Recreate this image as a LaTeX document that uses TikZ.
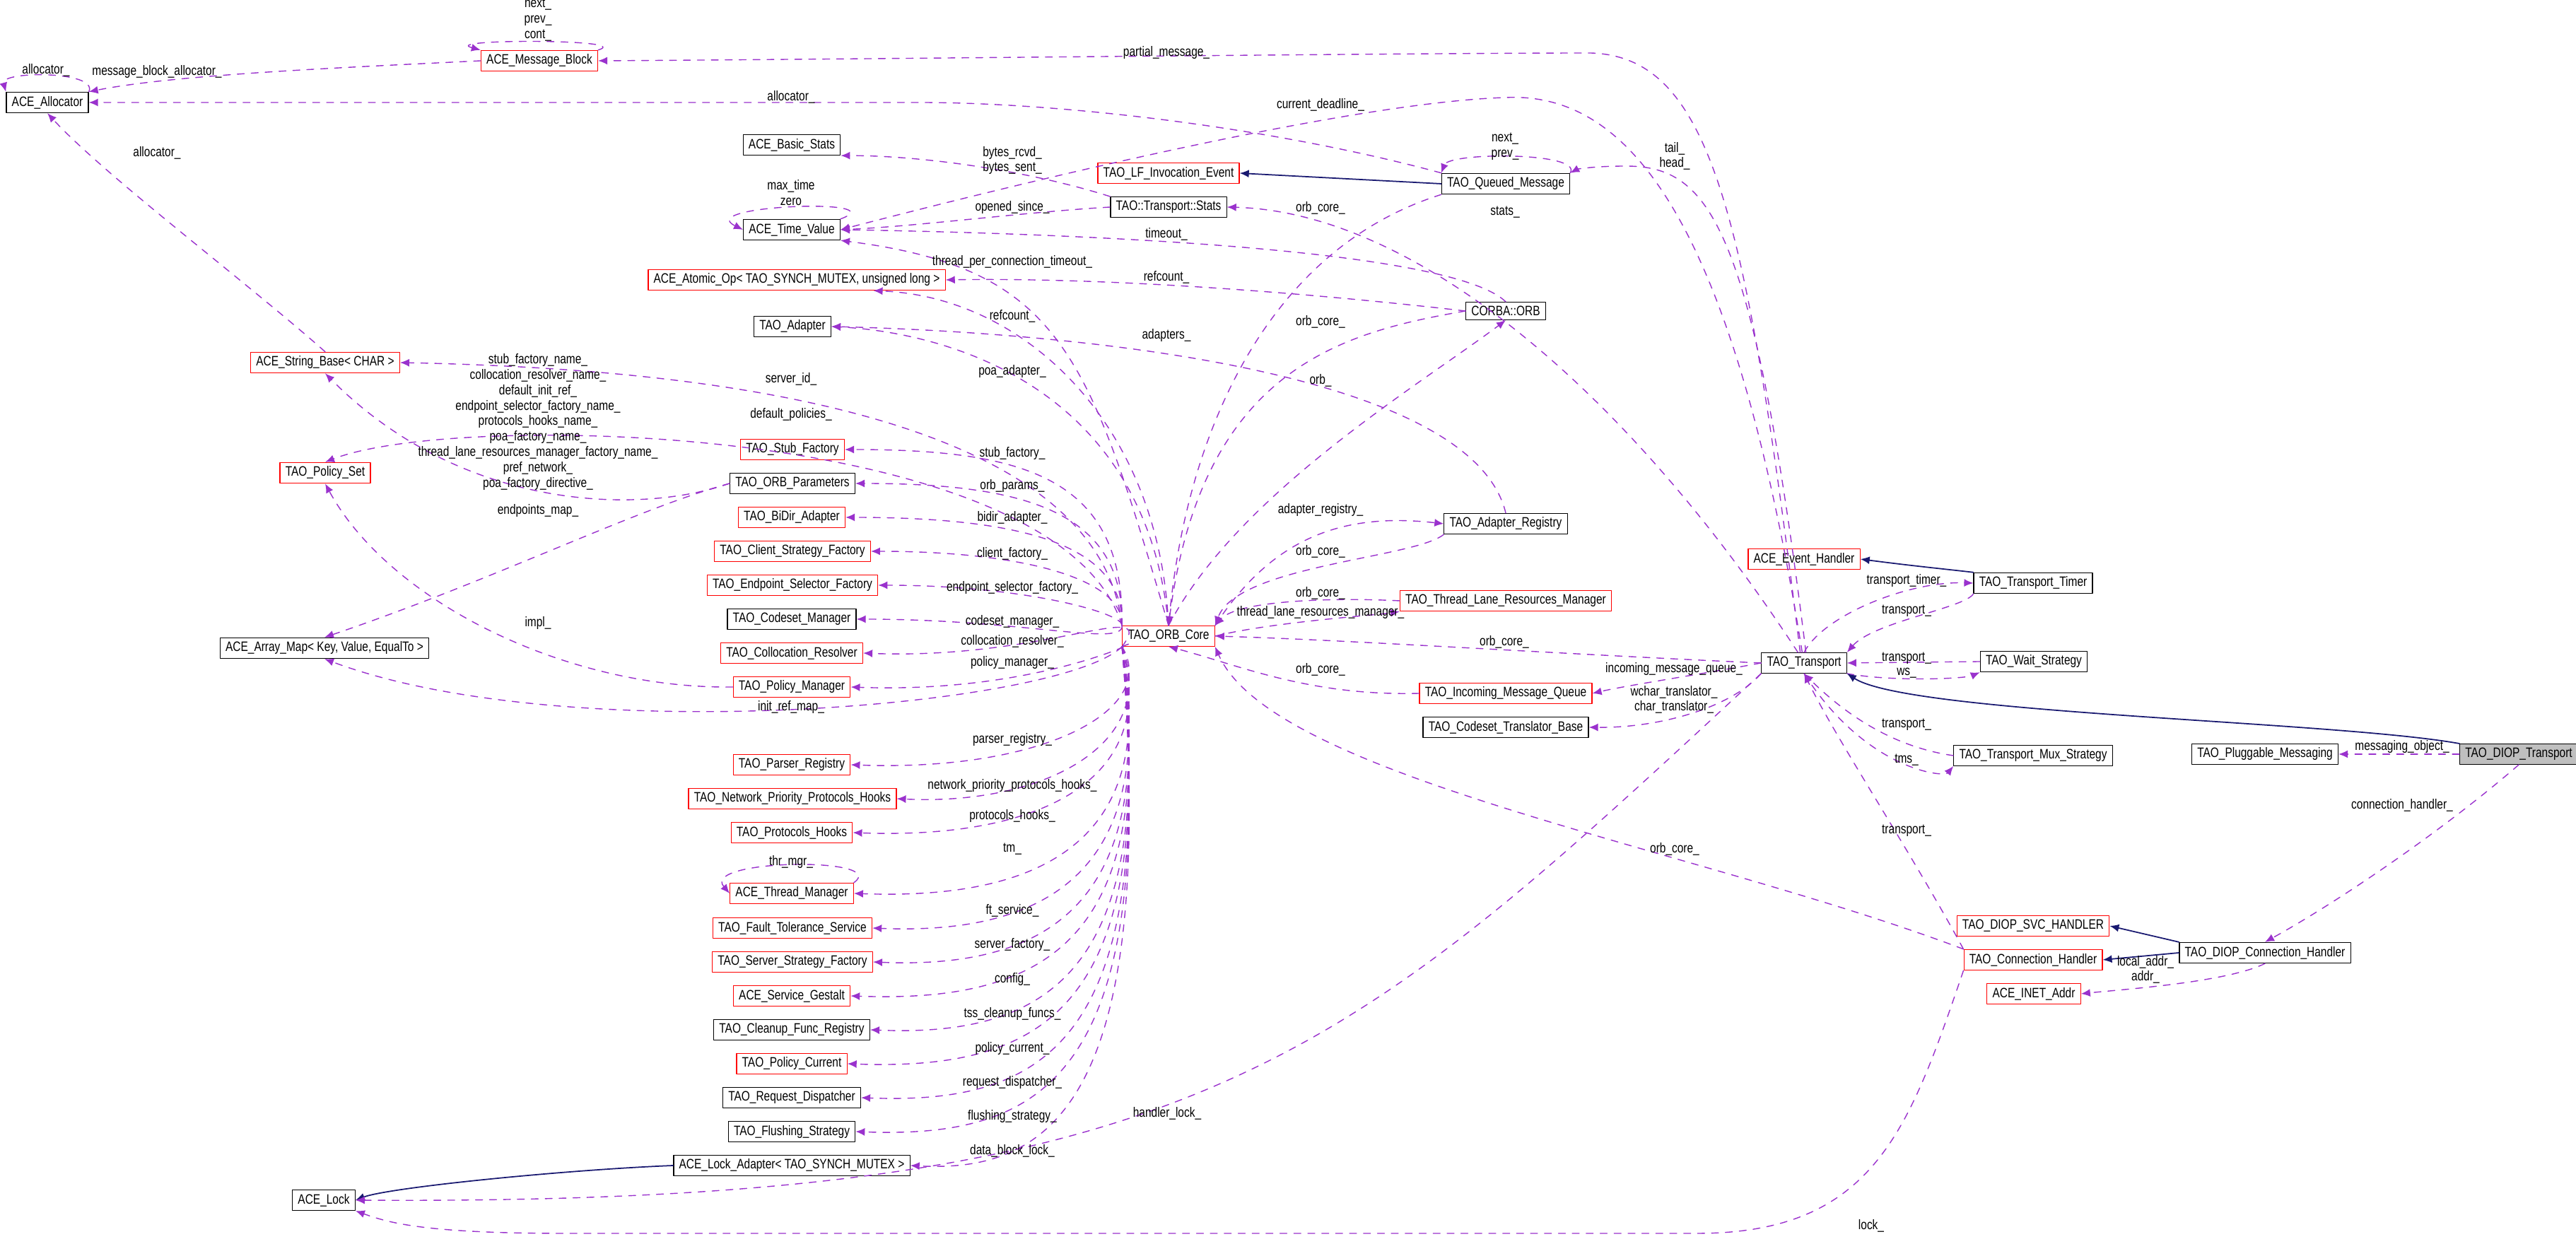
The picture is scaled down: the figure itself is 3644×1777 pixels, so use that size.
\documentclass[tikz,border=0pt]{standalone}
\usepackage{fontspec}
\setsansfont[FakeStretch=0.8]{Liberation Sans}
\usetikzlibrary{arrows.meta}
\definecolor{depcol}{HTML}{9A32CD}
\definecolor{inhcol}{HTML}{191970}
\begin{document}
\begin{tikzpicture}[x=0.01cm, y=-0.01cm, line cap=round, line join=round,
  font=\sffamily\fontsize{5.5}{6.2}\selectfont,
  cls/.style={draw=black, line width=0.35pt, inner xsep=2.2pt, inner ysep=1.6pt, minimum height=0.245cm, fill=white},
  red/.style={cls, draw=red},
  lab/.style={inner sep=0.5pt, align=center},
  dep/.style={draw=depcol, dash pattern=on 2.8pt off 2.8pt, line width=0.4pt, -{Latex[length=1.3mm,width=1.1mm]}},
  inh/.style={draw=inhcol, line width=0.5pt, -{Latex[length=1.3mm,width=1.1mm]}}]

\useasboundingbox (0,0) rectangle (3644,1777);

% classes, left column
\node[cls] (alloc) at (67,145) {ACE\_Allocator};
\node[red] (msgblk) at (763,86) {ACE\_Message\_Block};
\node[red] (strbase) at (460,513) {ACE\_String\_Base< CHAR >};
\node[red] (polset) at (460,669) {TAO\_Policy\_Set};
\node[cls] (arraymap) at (459,917) {ACE\_Array\_Map< Key, Value, EqualTo >};
\node[cls] (acelock) at (458,1698) {ACE\_Lock};

% classes, middle column
\node[cls] (basicst) at (1120,205) {ACE\_Basic\_Stats};
\node[cls] (timeval) at (1120,325) {ACE\_Time\_Value};
\node[red] (atomic) at (1127,396) {ACE\_Atomic\_Op< TAO\_SYNCH\_MUTEX, unsigned long >};
\node[cls] (adapter) at (1121,462) {TAO\_Adapter};
\node[red] (stubf) at (1121,636) {TAO\_Stub\_Factory};
\node[cls] (orbparams) at (1121,684) {TAO\_ORB\_Parameters};
\node[red] (bidir) at (1120,732) {TAO\_BiDir\_Adapter};
\node[red] (clientsf) at (1121,780) {TAO\_Client\_Strategy\_Factory};
\node[red] (endpsel) at (1121,828) {TAO\_Endpoint\_Selector\_Factory};
\node[cls] (codesetm) at (1120,876) {TAO\_Codeset\_Manager};
\node[red] (collres) at (1120,924) {TAO\_Collocation\_Resolver};
\node[red] (polmgr) at (1120,972) {TAO\_Policy\_Manager};
\node[red] (parsreg) at (1120,1082) {TAO\_Parser\_Registry};
\node[red] (netprio) at (1121,1130) {TAO\_Network\_Priority\_Protocols\_Hooks};
\node[red] (prothooks) at (1120,1178) {TAO\_Protocols\_Hooks};
\node[red] (thrmgr) at (1120,1264) {ACE\_Thread\_Manager};
\node[red] (ftserv) at (1121,1313) {TAO\_Fault\_Tolerance\_Service};
\node[red] (serversf) at (1121,1361) {TAO\_Server\_Strategy\_Factory};
\node[red] (gestalt) at (1120,1409) {ACE\_Service\_Gestalt};
\node[cls] (cleanup) at (1120,1457) {TAO\_Cleanup\_Func\_Registry};
\node[red] (polcur) at (1120,1505) {TAO\_Policy\_Current};
\node[cls] (reqdisp) at (1120,1553) {TAO\_Request\_Dispatcher};
\node[cls] (flush) at (1120,1601) {TAO\_Flushing\_Strategy};
\node[cls] (lockad) at (1120,1649) {ACE\_Lock\_Adapter< TAO\_SYNCH\_MUTEX >};

% classes, right part
\node[red] (orbcore) at (1653,900) {TAO\_ORB\_Core};
\node[red] (lfevent) at (1653,245) {TAO\_LF\_Invocation\_Event};
\node[cls] (stats) at (1653,293) {TAO::Transport::Stats};
\node[cls] (qmsg) at (2130,260) {TAO\_Queued\_Message};
\node[cls] (corbaorb) at (2130,440) {CORBA::ORB};
\node[cls] (adreg) at (2130,741) {TAO\_Adapter\_Registry};
\node[red] (tlrm) at (2130,850) {TAO\_Thread\_Lane\_Resources\_Manager};
\node[red] (inmq) at (2130,981) {TAO\_Incoming\_Message\_Queue};
\node[cls] (cstrans) at (2130,1029) {TAO\_Codeset\_Translator\_Base};
\node[red] (evhandler) at (2552,791) {ACE\_Event\_Handler};
\node[cls] (transport) at (2552,938) {TAO\_Transport};
\node[cls] (ttimer) at (2876,825) {TAO\_Transport\_Timer};
\node[cls] (waitst) at (2877,936) {TAO\_Wait\_Strategy};
\node[cls] (mux) at (2876,1069) {TAO\_Transport\_Mux\_Strategy};
\node[cls] (plugmsg) at (3204,1067) {TAO\_Pluggable\_Messaging};
\node[cls, fill=black!25] (diop) at (3563,1067) {TAO\_DIOP\_Transport};
\node[red] (svch) at (2876,1310) {TAO\_DIOP\_SVC\_HANDLER};
\node[red] (connh) at (2876,1358) {TAO\_Connection\_Handler};
\node[cls] (diopch) at (3204,1348) {TAO\_DIOP\_Connection\_Handler};
\node[red] (inet) at (2877,1406) {ACE\_INET\_Addr};

% self loops
\draw[dep] (alloc.north east) .. controls (140,100) and (0,100) .. (alloc.north west);
\draw[dep] (msgblk.north east) .. controls (900,55) and (620,55) .. (msgblk.north west);
\draw[dep] (qmsg.north east) .. controls (2240,215) and (2050,215) .. (qmsg.north west);
\draw[dep] (timeval.north east) .. controls (1270,280) and (980,290) .. (timeval.west);
\draw[dep] (thrmgr.north east) .. controls (1260,1212) and (990,1215) .. (thrmgr.west);

% left and top connectors
\draw[dep] (msgblk.west) .. controls (500,95) and (250,105) .. (alloc.north east);
\draw[dep] (transport.110) .. controls (2470,300) and (2420,80) .. (2250,75) .. controls (2000,75) and (1200,84) .. (msgblk.east);
\draw[dep] (qmsg.north west) .. controls (1800,180) and (1500,145) .. (1300,145) -- (alloc.east);
\draw[dep] (transport.100) .. controls (2450,300) and (2300,130) .. (2130,138) .. controls (1900,145) and (1400,270) .. (timeval.east);
\draw[dep] (transport.80) .. controls (2480,320) and (2420,235) .. (2300,235) .. controls (2250,235) and (2230,240) .. (qmsg.north east);
\draw[dep] (stats.north west) .. controls (1450,240) and (1300,220) .. (basicst.south east);
\draw[dep] (stats.west) .. controls (1450,300) and (1300,320) .. (timeval.east);
\draw[inh] (qmsg.west) -- (lfevent.east);
\draw[dep] (transport.120) .. controls (2300,550) and (2000,300) .. (stats.east);
\draw[dep] (qmsg.south west) .. controls (1800,350) and (1680,600) .. (orbcore.north);
\draw[dep] (corbaorb.north) .. controls (2050,350) and (1500,330) .. (timeval.east);
\draw[dep] (orbcore.north) .. controls (1540,500) and (1500,380) .. (timeval.south east);
\draw[dep] (corbaorb.west) .. controls (1900,420) and (1600,392) .. (atomic.east);
\draw[dep] (orbcore.north) .. controls (1640,600) and (1450,420) .. (atomic.-8);
\draw[dep] (corbaorb.west) .. controls (1900,470) and (1700,520) .. (orbcore.north);
\draw[dep] (orbcore.north) .. controls (1750,700) and (2000,550) .. (corbaorb.south);
\draw[dep] (adreg.north) .. controls (2080,520) and (1500,470) .. (adapter.east);
\draw[dep] (orbcore.north) .. controls (1620,540) and (1330,470) .. (adapter.east);
\draw[dep] (strbase.north) .. controls (350,400) and (150,250) .. (alloc.south);
\draw[dep] (orbcore.north west) .. controls (1550,560) and (900,520) .. (strbase.east);
\draw[dep] (orbparams.west) .. controls (900,730) and (650,720) .. (strbase.south);
\draw[dep] (orbcore.north west) .. controls (1500,600) and (650,580) .. (polset.north);
\draw[dep] (orbparams.west) .. controls (900,720) and (700,820) .. (arraymap.north);
\draw[dep] (polmgr.west) .. controls (800,975) and (550,850) .. (polset.south);
\draw[dep] (orbcore.south west) .. controls (1500,1000) and (800,1060) .. (arraymap.south);

% members of the ORB core
\foreach \n/\y in {stubf/636, orbparams/684, bidir/732, clientsf/780, endpsel/828, codesetm/876}
  \draw[dep] (orbcore.north west) .. controls (1590,\y+40) and (1450,\y) .. (\n.east);
\foreach \n/\y in {collres/924, polmgr/972, parsreg/1082, netprio/1130, prothooks/1178, thrmgr/1264,
  ftserv/1313, serversf/1361, gestalt/1409, cleanup/1457, polcur/1505, reqdisp/1553, flush/1601, lockad/1649}
  \draw[dep] (orbcore.south west) .. controls (1640,\y-80) and (1480,\y+10) .. (\n.east);

\draw[inh] (lockad.west) .. controls (800,1655) and (550,1680) .. (acelock.east);
\draw[dep] (transport.south west) .. controls (1900,1500) and (1700,1705) .. (acelock.east);
\draw[dep] (connh.south west) .. controls (2700,1600) and (2650,1745) .. (2400,1745) -- (800,1745) .. controls (600,1745) and (550,1730) .. (acelock.south east);

% right part
\draw[dep] (orbcore.north east) .. controls (1800,760) and (1900,725) .. (adreg.west);
\draw[dep] (adreg.south west) .. controls (2000,790) and (1750,800) .. (orbcore.north east);
\draw[dep] (tlrm.west) .. controls (1880,845) and (1750,850) .. (orbcore.north east);
\draw[dep] (orbcore.east) .. controls (1800,880) and (1950,870) .. (tlrm.south west);
\draw[dep] (transport.west) .. controls (2200,925) and (1900,905) .. (orbcore.east);
\draw[dep] (inmq.west) .. controls (1850,985) and (1750,940) .. (orbcore.south);
\draw[dep] (transport.west) .. controls (2400,955) and (2300,970) .. (inmq.east);
\draw[dep] (transport.south west) .. controls (2450,1000) and (2350,1030) .. (cstrans.east);
\draw[inh] (ttimer.north west) .. controls (2750,805) and (2700,800) .. (evhandler.east);
\draw[dep] (transport.north) .. controls (2580,870) and (2700,822) .. (ttimer.west);
\draw[dep] (ttimer.south west) .. controls (2780,860) and (2650,880) .. (transport.north east);
\draw[dep] (waitst.west) -- (transport.east);
\draw[dep] (transport.south east) .. controls (2680,965) and (2780,960) .. (waitst.south west);
\draw[dep] (mux.west) .. controls (2700,1060) and (2630,1030) .. (transport.south);
\draw[dep] (transport.south) .. controls (2640,1090) and (2750,1100) .. (mux.south west);
\draw[inh] (diop.north west) .. controls (3300,1020) and (2700,1010) .. (transport.south east);
\draw[dep] (diop.west) -- (plugmsg.east);
\draw[dep] (diop.south) .. controls (3450,1180) and (3300,1280) .. (diopch.north);
\draw[inh] (diopch.north west) -- (svch.east);
\draw[inh] (diopch.west) -- (connh.east);
\draw[dep] (diopch.south) .. controls (3150,1390) and (3000,1400) .. (inet.east);
\draw[dep] (connh.north west) .. controls (2700,1200) and (2600,1050) .. (transport.south);
\draw[dep] (connh.north west) .. controls (2400,1200) and (1800,1100) .. (orbcore.south east);

% member names
\foreach \x/\y/\t [count=\i] in {
  65/99/allocator\_, 222/102/message\_block\_allocator\_, 761/28/{next\_\\prev\_\\cont\_},
  1650/75/partial\_message\_, 1119/137/allocator\_, 1868/148/current\_deadline\_,
  2129/207/{next\_\\prev\_}, 2369/221/{tail\_\\head\_}, 1432/227/{bytes\_rcvd\_\\bytes\_sent\_},
  222/216/allocator\_, 1119/273/{max\_time\\zero}, 1432/294/opened\_since\_, 1868/294/orb\_core\_,
  2129/300/stats\_, 1650/331/timeout\_, 1432/371/thread\_per\_connection\_timeout\_,
  1650/392/refcount\_, 1432/447/refcount\_, 1868/455/orb\_core\_, 1650/475/adapters\_,
  1432/526/poa\_adapter\_, 1868/538/orb\_, 1119/536/server\_id\_, 1119/587/default\_policies\_,
  761/597/{stub\_factory\_name\_\\collocation\_resolver\_name\_\\default\_init\_ref\_\\endpoint\_selector\_factory\_name\_\\protocols\_hooks\_name\_\\poa\_factory\_name\_\\thread\_lane\_resources\_manager\_factory\_name\_\\pref\_network\_\\poa\_factory\_directive\_},
  1432/642/stub\_factory\_, 1432/688/orb\_params\_, 1432/733/bidir\_adapter\_, 761/723/endpoints\_map\_,
  1868/722/adapter\_registry\_, 1432/784/client\_factory\_, 1868/780/orb\_core\_,
  1432/832/endpoint\_selector\_factory\_, 1868/839/orb\_core\_, 1868/867/thread\_lane\_resources\_manager\_,
  1432/880/codeset\_manager\_, 761/882/impl\_, 1432/907/collocation\_resolver\_, 2128/908/orb\_core\_,
  1432/938/policy\_manager\_, 1868/947/orb\_core\_, 2368/947/incoming\_message\_queue\_,
  2368/990/{wchar\_translator\_\\char\_translator\_}, 1119/1001/init\_ref\_map\_,
  1432/1047/parser\_registry\_, 1432/1112/network\_priority\_protocols\_hooks\_, 1432/1155/protocols\_hooks\_,
  1432/1201/tm\_, 1119/1220/thr\_mgr\_, 1432/1288/ft\_service\_, 1432/1337/server\_factory\_,
  1432/1386/config\_, 1432/1435/tss\_cleanup\_funcs\_, 1432/1484/policy\_current\_,
  1432/1532/request\_dispatcher\_, 1432/1580/flushing\_strategy\_, 1432/1628/data\_block\_lock\_,
  1651/1575/handler\_lock\_, 2647/1734/lock\_,
  2697/822/transport\_timer\_, 2697/864/transport\_, 2697/931/transport\_, 2697/952/ws\_,
  2697/1025/transport\_, 2697/1075/tms\_, 3398/1057/messaging\_object\_, 3398/1139/connection\_handler\_,
  2697/1175/transport\_, 2369/1201/orb\_core\_, 3035/1372/{local\_addr\_\\addr\_}}
  \node[lab] (lbl\i) at (\x,\y) {\t};

\end{tikzpicture}
\end{document}
